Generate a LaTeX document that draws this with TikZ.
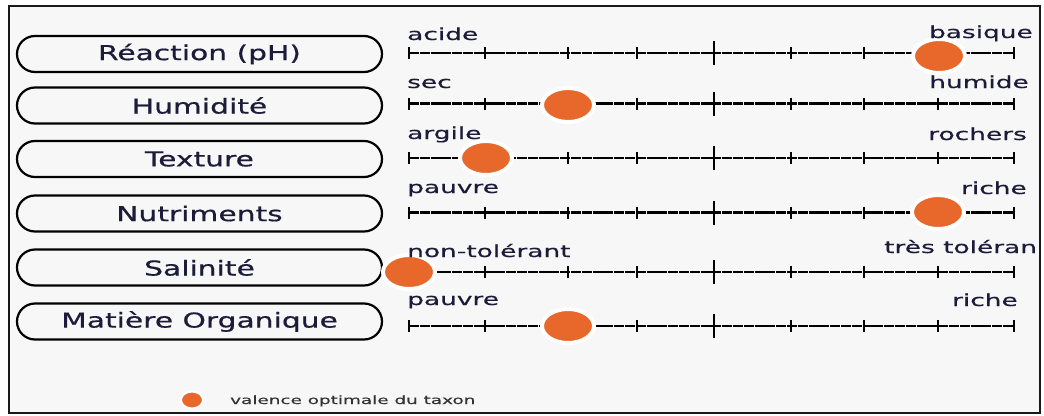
\documentclass[tikz,border=0pt]{standalone}
\usepackage{fontspec}
\usetikzlibrary{shapes.geometric}
\newfontfamily\pillfont[FakeStretch=1.45,FakeBold=0.6]{DejaVu Sans}
\newfontfamily\lblfont[FakeStretch=1.6,FakeBold=0.5]{DejaVu Sans}
\definecolor{dotorange}{RGB}{232,103,42}
\definecolor{bggray}{RGB}{247,247,247}
\definecolor{txtnavy}{RGB}{28,28,58}
\tikzset{
  pill/.style={draw=black, line width=2.2pt, rounded corners=18pt,
    minimum width=365pt, minimum height=36pt, inner sep=0pt,
    font=\pillfont\fontsize{20.5}{22}\selectfont, text=txtnavy},
  axisline/.style={line width=2.2pt, black, dash pattern=on 10pt off 0.8pt},
  tickmark/.style={line width=2.4pt, black},
  optdot/.style={ellipse, fill=dotorange, draw=white, line width=4pt,
    minimum width=52pt, minimum height=34pt, inner sep=0pt},
  lbl/.style={font=\lblfont\fontsize{16.5}{18}\selectfont, text=txtnavy, inner sep=0pt},
  legtext/.style={font=\lblfont\fontsize{11.5}{13}\selectfont, text=black!80, inner sep=0pt}
}
\begin{document}
\begin{tikzpicture}[x=1pt,y=-1pt]
\fill[white] (0,0) rectangle (1044,415);
\useasboundingbox (0,0) rectangle (1044,415);
\draw[line width=2.8pt, black!90, fill=bggray] (9,6) rectangle (1040,413);

% pills
\node[pill] (p1) at (199.5,54) {R\'eaction (pH)\hspace{12pt}};
\node[pill] (p2) at (199.5,105.5) {Humidit\'e\hspace{12pt}};
\node[pill] (p3) at (199.5,159) {Texture\hspace{12pt}};
\node[pill] (p4) at (199.5,213.5) {Nutriments\hspace{12pt}};
\node[pill] (p5) at (199.5,267.5) {Salinit\'e\hspace{12pt}};
\node[pill] (p6) at (199.5,321.5) {Mati\`ere Organique\hspace{16pt}};

% axes
\foreach \r/\y in {1/53,2/103.5,3/158,4/212.5,5/272,6/326}{
  \coordinate (s\r) at (409,\y);
  \coordinate (e\r) at (1014,\y);
  \draw[axisline] (s\r) -- (e\r);
  \foreach \tx in {409,485,568,637,791,864,938,1014}{
    \draw[tickmark] (\tx,\y-6) -- (\tx,\y+6);
  }
  \draw[tickmark] (714,\y-12) -- (714,\y+12);
}

% optimum dots
\node[optdot] (d1) at (939,56) {};
\node[optdot] (d2) at (568,105) {};
\node[optdot] (d3) at (486,158) {};
\node[optdot] (d4) at (938,212) {};
\node[optdot] (d5) at (409,272) {};
\node[optdot] (d6) at (568,326) {};

% end labels
\node[lbl, anchor=base west] (l1) at (407,40) {acide};
\node[lbl, anchor=base east] (r1) at (1033,38) {basique};
\node[lbl, anchor=base west] (l2) at (407,88) {sec};
\node[lbl, anchor=base east] (r2) at (1029,88) {humide};
\node[lbl, anchor=base west] (l3) at (407,139) {argile};
\node[lbl, anchor=base east] (r3) at (1027,140) {rochers};
\node[lbl, anchor=base west] (l4) at (407,193) {pauvre};
\node[lbl, anchor=base east] (r4) at (1027,194) {riche};
\node[lbl, anchor=base west] (l5) at (407,257) {non-tol\'erant};
\node[lbl, anchor=base west] (r5) at (884,253) {tr\`es tol\'eran};
\node[lbl, anchor=base west] (l6) at (407,305) {pauvre};
\node[lbl, anchor=base east] (r6) at (1018,306) {riche};

% legend
\node[optdot, minimum width=22pt, minimum height=17pt, line width=2pt] (leg) at (192,400) {};
\node[legtext, anchor=base west] (legt) at (230,404) {valence optimale du taxon};
\end{tikzpicture}
\end{document}
